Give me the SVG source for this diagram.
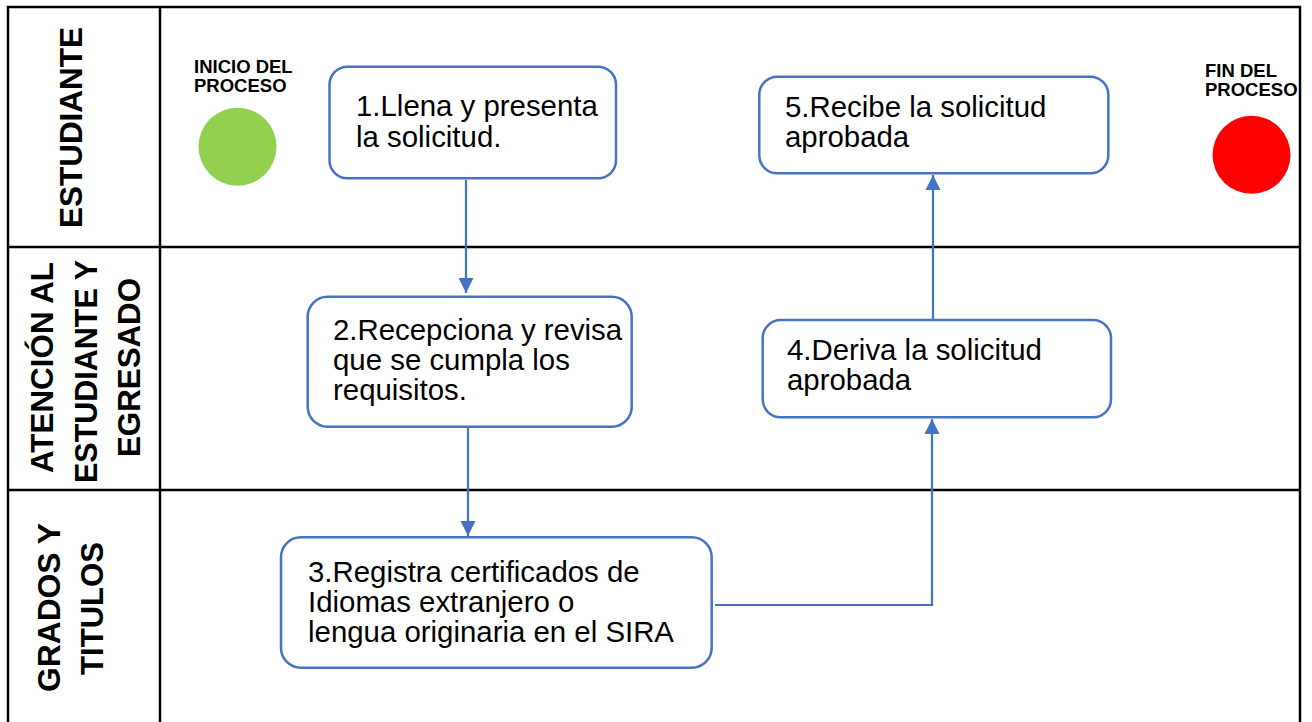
<svg xmlns="http://www.w3.org/2000/svg" width="1312" height="722" viewBox="0 0 1312 722">
<style>
.lane{fill:none;stroke:#000;stroke-width:2.5}
.hdr{font-family:"Liberation Sans",Arial,sans-serif;font-weight:bold;font-size:32px;fill:#000;text-anchor:middle}
.small{font-family:"Liberation Sans",Arial,sans-serif;font-weight:bold;font-size:18.5px;fill:#000}
.box{fill:#fff;stroke:#4472C4;stroke-width:2.5}
.txt{font-family:"Liberation Sans",Arial,sans-serif;font-size:29.4px;fill:#000}
.con{fill:none;stroke:#4472C4;stroke-width:2.2}
</style>
<defs>
<marker id="ah" viewBox="0 0 10 10" refX="10" refY="5" markerWidth="7" markerHeight="7" markerUnits="strokeWidth" orient="auto">
<path d="M0,0 L10,5 L0,10 Z" fill="#4472C4"/>
</marker>
</defs>
<rect width="1312" height="722" fill="#fff"/>
<g id="lanes">
<path class="lane" d="M8,740 V7 H1300 V740 M160,7 V740 M8,247 H1300 M8,490 H1300"/>
<text class="hdr" font-size="35" textLength="201" lengthAdjust="spacingAndGlyphs" transform="translate(82,127.5) rotate(-90)">ESTUDIANTE</text>
<text class="hdr" textLength="211" lengthAdjust="spacingAndGlyphs" transform="translate(53.3,367.5) rotate(-90)">ATENCIÓN AL</text>
<text class="hdr" textLength="223" lengthAdjust="spacingAndGlyphs" transform="translate(96.7,371.5) rotate(-90)">ESTUDIANTE Y</text>
<text class="hdr" textLength="179" lengthAdjust="spacingAndGlyphs" transform="translate(140,367.5) rotate(-90)">EGRESADO</text>
<text class="hdr" textLength="169" lengthAdjust="spacingAndGlyphs" transform="translate(60,607.5) rotate(-90)">GRADOS Y</text>
<text class="hdr" textLength="133" lengthAdjust="spacingAndGlyphs" transform="translate(103,608.5) rotate(-90)">TITULOS</text>
</g>
<g id="start">
<text class="small" x="194" y="72.7">INICIO DEL</text>
<text class="small" x="194" y="91.7">PROCESO</text>
<circle cx="237.5" cy="146.7" r="39" fill="#92D050"/>
</g>
<g id="end">
<text class="small" x="1205" y="76.7">FIN DEL</text>
<text class="small" x="1205" y="96">PROCESO</text>
<circle cx="1251.5" cy="154.8" r="39" fill="#FF0000"/>
</g>
<g id="connectors">
<path class="con" d="M466,180 V293" marker-end="url(#ah)"/>
<path class="con" d="M468,428 V536" marker-end="url(#ah)"/>
<path class="con" d="M715,605 H932 V419" marker-end="url(#ah)"/>
<path class="con" d="M933,320 V175" marker-end="url(#ah)"/>
</g>
<g id="n1">
<rect class="box" x="329.5" y="66.7" width="286.5" height="111.6" rx="18"/>
<text class="txt" x="356" y="116">1.Llena y presenta</text>
<text class="txt" x="356" y="146.7">la solicitud.</text>
</g>
<g id="n2">
<rect class="box" x="307.7" y="296.7" width="324" height="130" rx="20"/>
<text class="txt" x="333" y="340">2.Recepciona y revisa</text>
<text class="txt" x="333" y="370">que se cumpla los</text>
<text class="txt" x="333" y="400">requisitos.</text>
</g>
<g id="n3">
<rect class="box" x="281" y="537.3" width="430.7" height="130.4" rx="20"/>
<text class="txt" x="308" y="581.7">3.Registra certificados de</text>
<text class="txt" x="308" y="611.7">Idiomas extranjero o</text>
<text class="txt" x="308" y="641.7">lengua originaria en el SIRA</text>
</g>
<g id="n4">
<rect class="box" x="762.7" y="320" width="348.3" height="97.3" rx="18"/>
<text class="txt" x="787" y="360">4.Deriva la solicitud</text>
<text class="txt" x="787" y="390">aprobada</text>
</g>
<g id="n5">
<rect class="box" x="759.3" y="76.7" width="349" height="96.6" rx="18"/>
<text class="txt" x="785" y="116.7">5.Recibe la solicitud</text>
<text class="txt" x="785" y="146.7">aprobada</text>
</g>
</svg>
